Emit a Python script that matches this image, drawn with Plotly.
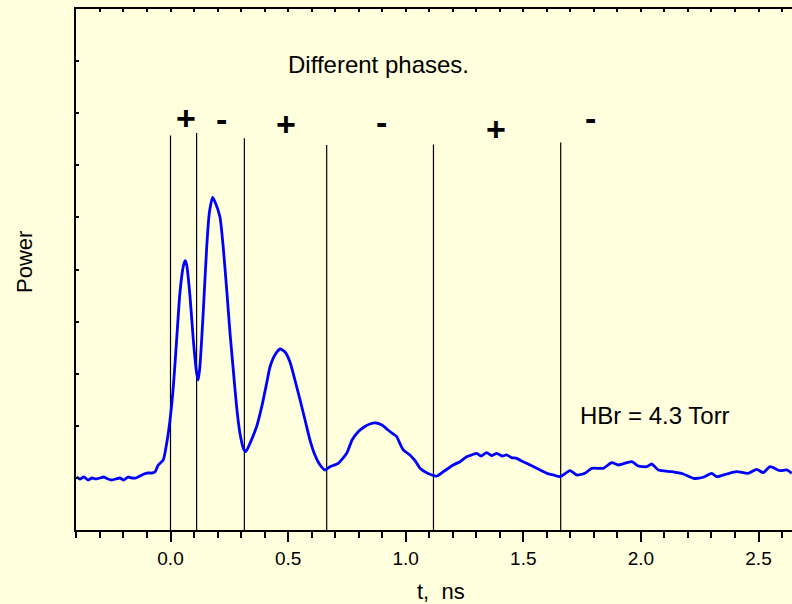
import plotly.graph_objects as go

# Time axis (ns) and detected power of the transmitted pulse train
t_ns = [-0.399, -0.385, -0.368, -0.351, -0.334, -0.317, -0.300, -0.283, -0.266, -0.249,
        -0.232, -0.215, -0.198, -0.181, -0.164, -0.147, -0.130, -0.113, -0.096, -0.079,
        -0.066, -0.052, -0.031, -0.016, -0.002, 0.012, 0.026, 0.040, 0.054, 0.062,
        0.069, 0.083, 0.097, 0.111, 0.118, 0.125, 0.139, 0.154, 0.165, 0.179,
        0.189, 0.210, 0.224, 0.239, 0.253, 0.267, 0.281, 0.295, 0.310, 0.320,
        0.338, 0.366, 0.388, 0.409, 0.423, 0.444, 0.466, 0.487, 0.508, 0.529,
        0.551, 0.572, 0.593, 0.614, 0.636, 0.657, 0.678, 0.713, 0.749, 0.772,
        0.797, 0.823, 0.848, 0.874, 0.899, 0.925, 0.945, 0.960, 0.990, 1.018,
        1.030, 1.040, 1.061, 1.089, 1.132, 1.160, 1.202, 1.231, 1.259, 1.280,
        1.302, 1.320, 1.344, 1.365, 1.387, 1.410, 1.429, 1.450, 1.472, 1.490,
        1.514, 1.557, 1.600, 1.628, 1.656, 1.699, 1.727, 1.762, 1.791, 1.840,
        1.876, 1.904, 1.961, 1.989, 2.025, 2.046, 2.074, 2.131, 2.180, 2.223,
        2.265, 2.301, 2.322, 2.365, 2.407, 2.457, 2.492, 2.520, 2.549, 2.591,
        2.620, 2.641]
power = [1.023, 0.979, 1.017, 0.960, 0.998, 0.979, 0.998, 1.017, 0.979, 0.960,
         0.979, 0.998, 0.960, 1.017, 0.998, 0.998, 1.036, 1.075, 1.094, 1.094,
         1.113, 1.248, 1.344, 1.670, 2.111, 2.750, 3.647, 4.549, 5.054, 5.169,
         5.086, 4.478, 3.647, 3.013, 2.879, 3.134, 4.165, 5.438, 6.084, 6.386,
         6.301, 6.013, 5.438, 4.607, 3.781, 3.071, 2.367, 1.862, 1.568, 1.503,
         1.664, 1.983, 2.367, 2.821, 3.129, 3.359, 3.474, 3.417, 3.225, 2.879,
         2.495, 2.111, 1.727, 1.440, 1.248, 1.152, 1.215, 1.280, 1.472, 1.727,
         1.881, 1.977, 2.035, 2.054, 2.015, 1.919, 1.850, 1.800, 1.536, 1.440,
         1.380, 1.330, 1.184, 1.100, 1.036, 1.119, 1.248, 1.311, 1.407, 1.440,
         1.472, 1.420, 1.484, 1.430, 1.472, 1.420, 1.440, 1.390, 1.376, 1.330,
         1.280, 1.184, 1.088, 1.056, 1.023, 1.138, 1.056, 1.088, 1.184, 1.184,
         1.292, 1.248, 1.311, 1.228, 1.215, 1.267, 1.152, 1.119, 1.075, 0.992,
         1.012, 1.088, 1.023, 1.075, 1.119, 1.088, 1.165, 1.100, 1.215, 1.138,
         1.152, 1.088]

# Phase boundaries (ns) and the heights of the marker lines
phase_bounds = [0.0, 0.111, 0.314, 0.664, 1.118, 1.659]
bound_tops = [7.57, 7.62, 7.52, 7.39, 7.40, 7.44]

# Sign of each phase interval and where its label sits
phase_signs = ["+", "-", "+", "-", "+", "-"]
sign_x = [0.066, 0.215, 0.491, 0.895, 1.383, 1.787]
sign_y = [7.91, 7.89, 7.79, 7.83, 7.70, 7.91]

x_ticks = [0.0, 0.5, 1.0, 1.5, 2.0, 2.5]
x_range = [-0.4018, 2.6424]
y_range = [0, 10]

FONT = "Arial, Liberation Sans, sans-serif"
BG = "#FFFFDD"

fig = go.Figure()

for xb, top in zip(phase_bounds, bound_tops):
    fig.add_trace(go.Scatter(x=[xb, xb], y=[0, top], mode="lines",
                             line=dict(color="black", width=1.2),
                             showlegend=False, hoverinfo="skip"))

fig.add_trace(go.Scatter(x=t_ns, y=power, mode="lines",
                         line=dict(color="#0000FF", width=2.8, shape="spline", smoothing=0.6),
                         showlegend=False))

# invisible trace carrying the top mirror axis
fig.add_trace(go.Scatter(x=[x_range[0]], y=[0], xaxis="x2", mode="markers",
                         marker=dict(opacity=0), showlegend=False, hoverinfo="skip"))

for s, sx, sy in zip(phase_signs, sign_x, sign_y):
    fig.add_annotation(x=sx, y=sy, text="<b>" + s + "</b>", showarrow=False,
                       font=dict(family=FONT, size=34, color="black"))

fig.add_annotation(x=0.886, y=8.93, text="Different phases.", showarrow=False,
                   font=dict(family=FONT, size=24, color="black"))
fig.add_annotation(x=2.058, y=2.19, text="HBr = 4.3 Torr", showarrow=False,
                   font=dict(family=FONT, size=24, color="black"))

fig.add_annotation(x=(441 - 76) / 716, y=-(591 - 530) / 521, xref="paper", yref="paper",
                   xanchor="center", yanchor="middle",
                   text="t,  ns", showarrow=False,
                   font=dict(family=FONT, size=22, color="black"))
fig.add_annotation(x=-(76 - 24) / 716, y=(530 - 262) / 521, xref="paper", yref="paper",
                   xanchor="center", yanchor="middle",
                   text="Power", textangle=-90, showarrow=False,
                   font=dict(family=FONT, size=22, color="black"))

fig.update_layout(
    width=792, height=604,
    margin=dict(l=76, r=0, t=9, b=74, pad=0),
    paper_bgcolor=BG, plot_bgcolor=BG,
    font=dict(family=FONT, color="black"),
    xaxis=dict(range=x_range, tickvals=x_ticks, tickformat=".1f",
               ticks="outside", ticklen=10, tickwidth=1.5, tickcolor="black",
               minor=dict(dtick=0.1, tick0=0, ticks="outside", ticklen=6,
                          tickwidth=1.5, tickcolor="black"),
               showline=True, linecolor="black", linewidth=2,
               showgrid=False, zeroline=False,
               tickfont=dict(family=FONT, size=19, color="black")),
    xaxis2=dict(range=x_range, overlaying="x", side="top", anchor="y",
                dtick=0.1, tick0=0, ticks="inside", ticklen=3, tickwidth=1.5,
                tickcolor="black", showticklabels=False,
                showline=True, linecolor="black", linewidth=2,
                showgrid=False, zeroline=False),
    yaxis=dict(range=y_range, dtick=1, tick0=0, ticks="inside", ticklen=3,
               tickwidth=1.5, tickcolor="black", showticklabels=False,
               showline=True, linecolor="black", linewidth=2,
               showgrid=False, zeroline=False),
)

fig.write_html("out.html")
